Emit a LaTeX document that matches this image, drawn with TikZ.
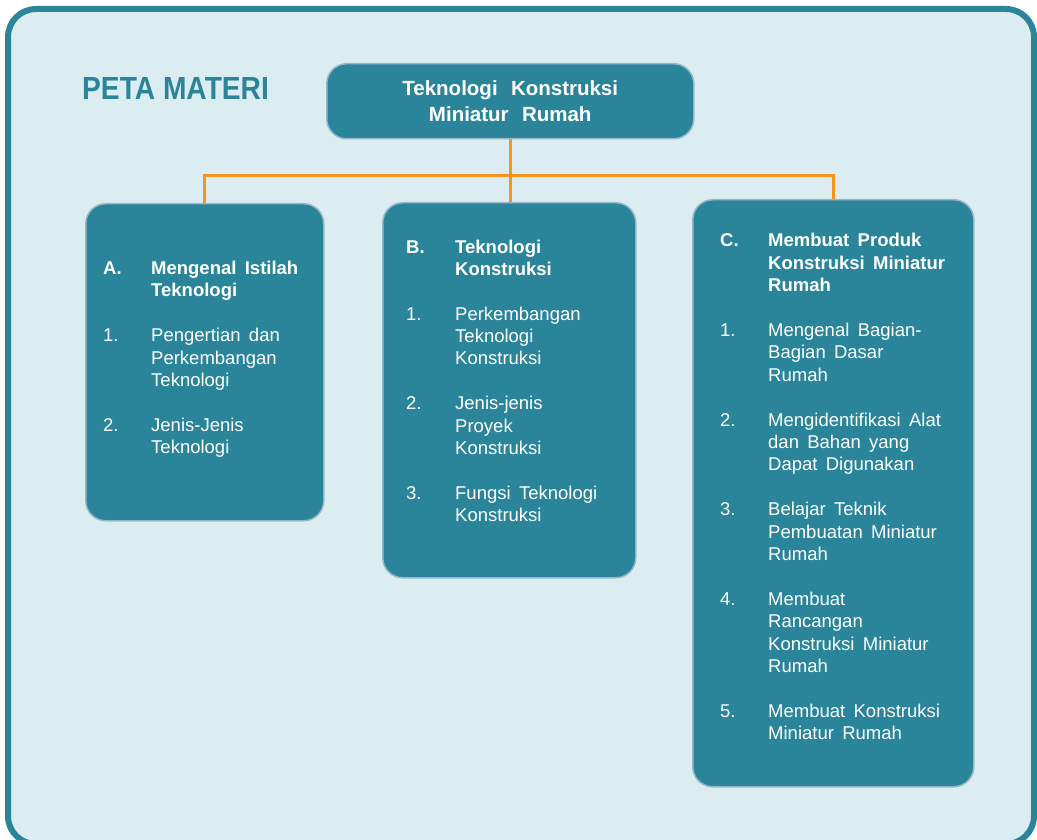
\documentclass[tikz,border=0pt]{standalone}
\usepackage{fontspec}
\setmainfont{Liberation Sans}

\definecolor{mapteal}{HTML}{2A859B}
\definecolor{mapbg}{HTML}{DCEDF1}
\definecolor{maporange}{HTML}{F7941E}
\definecolor{mapedge}{HTML}{97B6C6}

\newcommand{\itemfont}{\fontsize{18.5}{22.4}\selectfont\spaceskip=0.45em plus 0.1em\relax}
\newcommand{\rootfont}{\bfseries\fontsize{20.5}{26}\selectfont\spaceskip=0.65em\relax}

\tikzset{
  topicbox/.style={draw=mapedge, line width=1.5pt, fill=mapteal, rounded corners=20pt,
    inner sep=0pt, anchor=north west},
  link/.style={draw=maporange, line width=3pt},
  itemlist/.style={anchor=base west, inner sep=0pt, text=white, font=\itemfont},
}

\begin{document}
\begin{tikzpicture}[x=1pt, y=-1pt]
  \clip (0,0) rectangle (1037,840);
  \draw[draw=mapteal, line width=6pt, fill=mapbg, rounded corners=28pt] (8,9) rectangle (1034,844);

  \node[anchor=base west, inner sep=0pt, text=mapteal, font=\bfseries\fontsize{32}{32}\selectfont]
    (peta) at (82,100) {\scalebox{0.88}[1]{PETA MATERI}};

  \node[topicbox, minimum width=367pt, minimum height=75pt] (root) at (326,63) {};
  \node[text=white, align=center, font=\rootfont, inner sep=0pt] (rootlabel) at (root.center)
    {Teknologi Konstruksi\\Miniatur Rumah};

  \node[topicbox, minimum width=238pt, minimum height=317pt] (boxA) at (85,203) {};
  \node[topicbox, minimum width=253pt, minimum height=375pt] (boxB) at (382,202) {};
  \node[topicbox, minimum width=281pt, minimum height=587pt] (boxC) at (692,199) {};

  \coordinate (bus) at (510,176);
  \draw[link] (root.south -| bus) -- (boxB.north -| bus);
  \draw[link] (boxA.north) -- (boxA.north |- bus) -- (boxC.north |- bus) -- (boxC.north);

  \node[itemlist] (listA) at (103,274.5) {%
    \begin{tabular}[t]{@{}p{48pt}@{}l@{}}
      \textbf{A.} & \textbf{Mengenal Istilah}\\
                  & \textbf{Teknologi}\\[22.4pt]
      1. & Pengertian dan\\
         & Perkembangan\\
         & Teknologi\\[22.4pt]
      2. & Jenis-Jenis\\
         & Teknologi
    \end{tabular}};

  \node[itemlist] (listB) at (406,253) {%
    \begin{tabular}[t]{@{}p{49pt}@{}l@{}}
      \textbf{B.} & \textbf{Teknologi}\\
                  & \textbf{Konstruksi}\\[22.4pt]
      1. & Perkembangan\\
         & Teknologi\\
         & Konstruksi\\[22.4pt]
      2. & Jenis-jenis\\
         & Proyek\\
         & Konstruksi\\[22.4pt]
      3. & Fungsi Teknologi\\
         & Konstruksi
    \end{tabular}};

  \node[itemlist] (listC) at (720,247) {%
    \begin{tabular}[t]{@{}p{48pt}@{}l@{}}
      \textbf{C.} & \textbf{Membuat Produk}\\
                  & \textbf{Konstruksi Miniatur}\\
                  & \textbf{Rumah}\\[22.4pt]
      1. & Mengenal Bagian-\\
         & Bagian Dasar\\
         & Rumah\\[22.4pt]
      2. & Mengidentifikasi Alat\\
         & dan Bahan yang\\
         & Dapat Digunakan\\[22.4pt]
      3. & Belajar Teknik\\
         & Pembuatan Miniatur\\
         & Rumah\\[22.4pt]
      4. & Membuat\\
         & Rancangan\\
         & Konstruksi Miniatur\\
         & Rumah\\[22.4pt]
      5. & Membuat Konstruksi\\
         & Miniatur Rumah
    \end{tabular}};
\end{tikzpicture}
\end{document}
